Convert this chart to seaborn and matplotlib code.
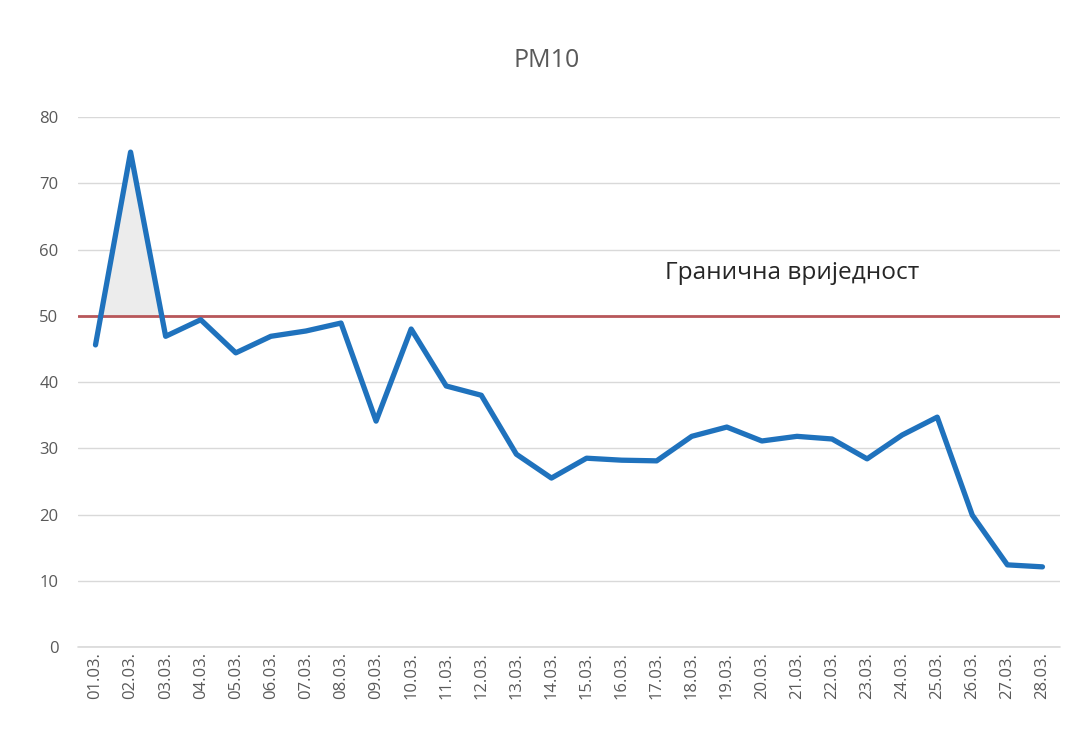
import numpy as np
import pandas as pd
import matplotlib.pyplot as plt
import seaborn as sns

days = ["01.03.", "02.03.", "03.03.", "04.03.", "05.03.", "06.03.", "07.03.",
        "08.03.", "09.03.", "10.03.", "11.03.", "12.03.", "13.03.", "14.03.",
        "15.03.", "16.03.", "17.03.", "18.03.", "19.03.", "20.03.", "21.03.",
        "22.03.", "23.03.", "24.03.", "25.03.", "26.03.", "27.03.", "28.03."]
pm10 = [45.6, 74.7, 46.9, 49.4, 44.4, 46.9, 47.7, 48.9, 34.1, 48.0, 39.4, 38.0,
        29.1, 25.5, 28.5, 28.2, 28.1, 31.8, 33.2, 31.1, 31.8, 31.4, 28.4, 32.0,
        34.7, 19.9, 12.4, 12.1]
limit = 50
limit_label = "Гранична вриједност"

df = pd.DataFrame({"day": days, "pm10": pm10, "x": np.arange(len(days))})

sns.set_style("whitegrid")
plt.rcParams["font.family"] = ["Open Sans", "DejaVu Sans"]

fig = plt.figure(figsize=(10.68, 7.34), dpi=100)
ax = fig.add_axes([0.073, 0.1185, 0.9195, 0.7221])

# grey fill where the limit is exceeded
ax.fill_between(df["x"], df["pm10"], limit, where=df["pm10"] > limit,
                interpolate=True, color="#ececec", zorder=1)
ax.axhline(limit, color="#b8575a", lw=2, zorder=2)
ax.axhline(0, color="#d9d9d9", lw=1.2, clip_on=False, zorder=0)
sns.lineplot(data=df, x="x", y="pm10", ax=ax, color="#1f72bd", lw=3.8, zorder=3)

ax.set_xlim(-0.5, len(days) - 0.5)
ax.set_ylim(0, 80)
ax.set_yticks(range(0, 81, 10))
ax.set_xticks(df["x"])
ax.set_xticklabels(days, rotation=90)
ax.tick_params(axis="both", colors="#595959", labelsize=12, length=0)
ax.tick_params(axis="y", pad=14)
ax.grid(axis="x", visible=False)
ax.grid(axis="y", color="#d9d9d9", lw=1)
ax.set_xlabel("")
ax.set_ylabel("")
for s in ax.spines.values():
    s.set_visible(False)

ax.text(16.25, 56.4, limit_label, fontsize=17.6, color="#262626", va="center")
fig.text(0.512, 0.917, "PM10", ha="center", va="center", fontsize=18, color="#595959")

fig.savefig("out.png", dpi=100)
